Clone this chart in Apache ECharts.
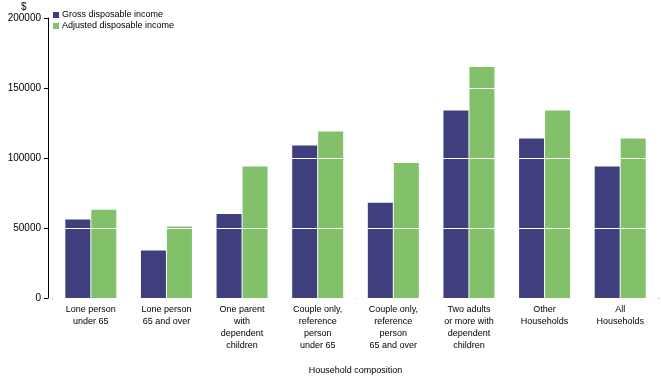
<!DOCTYPE html>
<html><head><meta charset="utf-8">
<script src="https://cdn.jsdelivr.net/npm/echarts@6/dist/echarts.min.js"></script>
<style>html,body{margin:0;padding:0;background:#fff}#c{width:661px;height:378px}</style>
</head><body><div id="c"></div>
<script>
var categories = ["Lone person\nunder 65", "Lone person\n65 and over", "One parent\nwith\ndependent\nchildren", "Couple only,\nreference\nperson\nunder 65", "Couple only,\nreference\nperson\n65 and over", "Two adults\nor more with\ndependent\nchildren", "Other\nHouseholds", "All\nHouseholds"];
var gross = [56000, 34000, 60000, 109000, 68000, 134000, 114000, 94000];
var adjusted = [63000, 51000, 94000, 119000, 96500, 165000, 134000, 114000];
var yTicks = [0, 50000, 100000, 150000, 200000];
var seriesNames = ["Gross disposable income", "Adjusted disposable income"];

var font = "Liberation Sans, Arial, sans-serif";
var chart = echarts.init(document.getElementById('c'));
chart.setOption({
  animation: false,
  textStyle: {fontFamily: font},
  title: {text: "$", left: 21, top: 2, padding: [0,0,0,0], textStyle: {fontSize: 10, fontWeight: 'normal', color: '#000', fontFamily: font}},
  legend: {
    orient: 'vertical', left: 53, top: 10, itemWidth: 6, itemHeight: 6, itemGap: 1, padding: 0,
    icon: 'rect', data: seriesNames,
    textStyle: {fontSize: 9, lineHeight: 10, color: '#000', fontFamily: font, padding: [0,0,0,-2]}
  },
  grid: {left: 53, right: 3, top: 18, bottom: 80, containLabel: false, outerBoundsMode: 'none'},
  xAxis: {
    type: 'category', data: categories,
    axisLine: {lineStyle: {color: '#000', width: 1}},
    axisTick: {alignWithLabel: true, length: 4, lineStyle: {color: '#000'}},
    axisLabel: {fontSize: 9, color: '#000', lineHeight: 12, margin: 6, interval: 0, fontFamily: font},
    name: "Household composition", nameLocation: 'middle', nameGap: 68,
    nameTextStyle: {fontSize: 9, color: '#000', fontFamily: font}
  },
  yAxis: {
    type: 'value', min: yTicks[0], max: yTicks[yTicks.length-1], interval: 50000, offset: 5, z: 3,
    axisLine: {show: true, lineStyle: {color: '#000', width: 1}},
    axisTick: {show: true, length: 4, lineStyle: {color: '#000'}},
    axisLabel: {fontSize: 10, color: '#000', margin: 7, fontFamily: font, formatter: function (v) { return String(v); }},
    splitLine: {show: true, lineStyle: {color: '#fff', width: 1}}
  },
  series: [
    {name: seriesNames[0], type: 'bar', data: gross, barWidth: 25, barGap: '4%', itemStyle: {color: '#403f7d'}},
    {name: seriesNames[1], type: 'bar', data: adjusted, barWidth: 25, barGap: '4%', itemStyle: {color: '#82c06a'}}
  ]
});
</script></body></html>
